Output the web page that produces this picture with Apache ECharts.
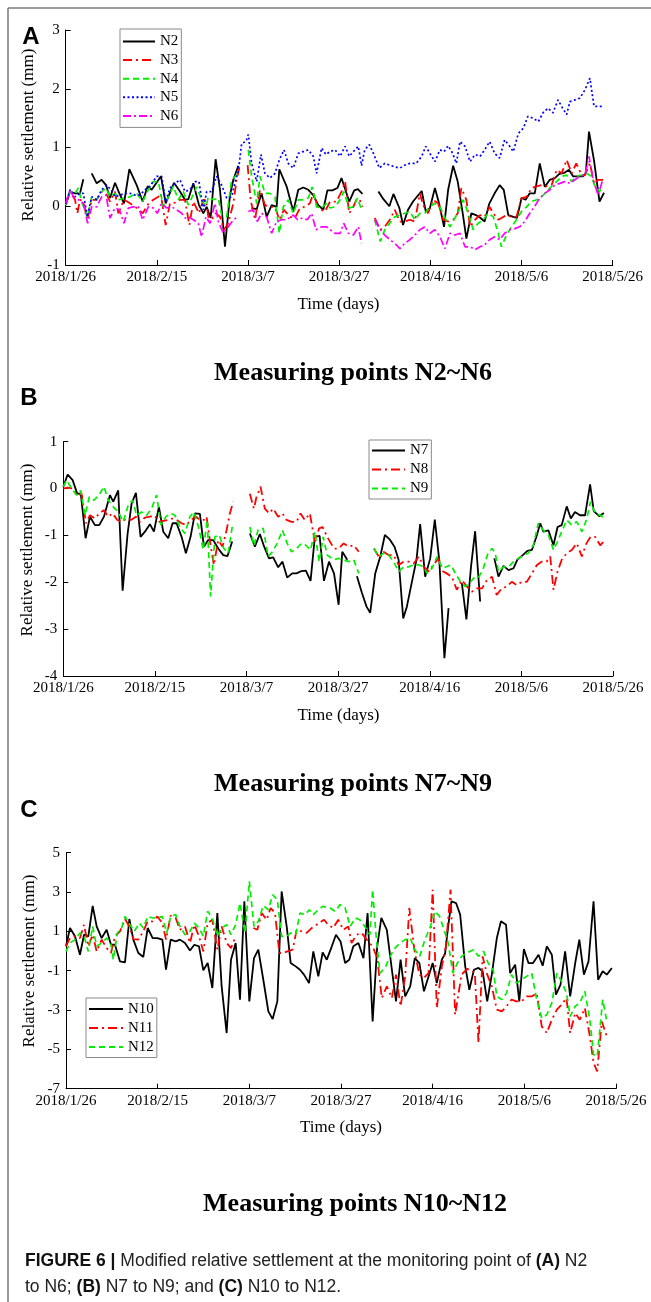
<!DOCTYPE html>
<html><head><meta charset="utf-8">
<script src="https://cdn.jsdelivr.net/npm/echarts@6/dist/echarts.min.js"></script>
<style>html,body{margin:0;padding:0;background:#fff}#c{width:651px;height:1302px}</style>
</head><body><div id="c"></div>
<script>
// x positions are days after 2018/1/26; '-' marks a gap in the record
const xTickLabels = ['2018/1/26','2018/2/15','2018/3/7','2018/3/27','2018/4/16','2018/5/6','2018/5/26'];
const yTicksC = [-7,-5,-3,-1,1,3,5];
const panelTitles = ['Measuring points N2~N6','Measuring points N7~N9','Measuring points N10~N12'];

const N2 = [[0,0.02],[0.95,0.25],[2.05,0.22],[3.14,0.22],[3.87,0.46],[4.8,'-'],[5.7,0.56],[6.8,0.39],[7.89,0.45],[8.85,0.36],[9.72,0.14],[10.82,0.4],[11.77,0.22],[12.79,0.05],[13.96,0.63],[15.57,0.36],[16.89,0.08],[17.98,0.34],[18.86,0.28],[20.9,0.51],[21.93,0.05],[23.76,0.4],[25.07,0.25],[26.17,0.11],[26.9,0.12],[28.0,0.39],[29.24,0.02],[30.19,-0.12],[30.92,-0.01],[31.8,-0.2],[32.89,0.8],[33.85,0.28],[34.94,-0.69],[36.04,0.19],[36.77,0.45],[37.87,0.69],[39.3,'-'],[40.79,-0.03],[41.89,-0.05],[42.98,0.22],[44.08,-0.18],[45.18,0.02],[46.27,-0.01],[46.86,0.63],[48.46,0.34],[49.93,-0.09],[51.02,0.28],[52.12,0.32],[53.22,0.28],[54.31,0.19],[55.41,0.02],[56.51,-0.06],[57.4,0.27],[58.5,0.27],[59.6,0.31],[60.5,0.48],[62.2,0.08],[63.3,0.27],[64.1,0.29],[65.1,0.21],[66.8,'-'],[68.6,0.25],[69.7,0.12],[71.0,0],[71.9,0.21],[73.2,-0.03],[74.0,-0.32],[75.1,-0.06],[76.2,0.08],[78.1,0.26],[79.0,-0.09],[79.9,-0.03],[81.0,0.31],[81.9,0.05],[83.0,-0.35],[83.9,0.28],[85.0,0.69],[86.0,0.42],[87.1,-0.12],[87.9,-0.55],[89.0,-0.12],[90.0,-0.15],[91.0,-0.2],[91.9,-0.26],[92.9,0.04],[94.1,0.22],[95.2,0.36],[96.1,0.28],[97.1,-0.15],[98.2,-0.18],[99.0,-0.2],[100.0,0.14],[100.9,0.11],[101.8,0.22],[102.9,0.22],[104.0,0.73],[105.1,0.33],[106.2,0.45],[107.3,0.48],[108.3,0.55],[109.4,0.57],[110.4,0.62],[111.3,0.51],[112.0,0.51],[113.5,0.51],[114.1,0.56],[114.8,1.27],[115.9,0.78],[117.1,0.08],[118.1,0.23]];
const N3 = [[0,0.02],[0.95,0.25],[2.05,0.11],[2.56,-0.12],[3.14,0.11],[3.87,0.08],[4.75,-0.23],[5.7,0.11],[6.8,0.11],[7.89,0.25],[8.85,0.22],[9.72,0.08],[10.82,0.25],[11.55,-0.12],[12.79,0.11],[14.1,0.05],[15.57,-0.03],[16.89,-0.12],[18.13,0.04],[19.23,0.11],[20.32,0.16],[20.83,0.22],[21.93,-0.32],[22.88,0.05],[23.98,0.06],[25.07,0.11],[26.17,0.11],[27.12,-0.32],[28.0,0.08],[29.24,-0.12],[30.19,0.11],[30.77,0.11],[31.29,-0.18],[32.02,-0.23],[32.89,-0.12],[33.85,-0.18],[34.72,-0.4],[35.67,-0.29],[36.77,0.05],[37.5,0.45],[38.09,0.65],[39.0,'-'],[39.91,0.7],[40.57,0.11],[41.52,-0.23],[42.62,0.28],[43.71,0.02],[44.81,-0.01],[45.91,-0.01],[46.86,-0.23],[47.88,-0.06],[49.2,-0.18],[50.29,-0.2],[51.39,-0.03],[52.49,-0.01],[53.58,0.05],[54.31,0.22],[55.41,-0.03],[56.87,-0.09],[58.0,0.08],[59.4,0.08],[60.5,0.25],[61.3,0.42],[62.2,-0.12],[63.1,-0.01],[63.8,0.12],[64.5,0.11],[65.1,-0.01],[66.5,'-'],[67.8,-0.2],[69.0,-0.4],[70.0,-0.35],[71.1,-0.23],[72.2,-0.06],[73.3,-0.26],[74.4,-0.26],[75.5,-0.23],[76.6,-0.26],[77.7,0.22],[78.4,0.02],[79.5,-0.12],[80.6,0.11],[81.7,0.05],[82.8,-0.23],[83.9,-0.26],[85.0,-0.23],[86.0,-0.12],[86.8,0.31],[87.9,0.11],[88.7,-0.35],[89.8,-0.23],[90.9,-0.15],[91.9,-0.18],[93.0,-0.01],[93.8,-0.12],[94.9,-0.23],[95.6,-0.2],[96.7,-0.15],[97.8,-0.18],[98.9,-0.18],[100.0,0.14],[101.1,0.16],[102.2,0.31],[103.3,0.34],[104.4,0.36],[105.5,0.34],[106.6,0.36],[107.7,0.62],[108.8,0.56],[109.9,0.79],[111.0,0.56],[112.0,0.73],[113.2,0.53],[113.9,0.53],[115.0,0.73],[115.9,0.39],[116.8,0.45],[117.9,0.45]];
const N4 = [[0,0.02],[0.95,0.25],[2.05,0.22],[2.78,0.31],[3.5,0.08],[4.75,-0.18],[5.7,0.16],[6.8,0.11],[7.89,0.25],[8.85,0.31],[9.72,0.16],[10.82,0.22],[11.77,0.11],[12.79,0.14],[14.1,0.16],[15.57,0.22],[16.89,0.08],[18.13,0.28],[19.23,0.42],[20.32,0.42],[21.42,-0.01],[22.51,0.16],[23.61,0.34],[24.71,0.11],[25.8,0.25],[26.9,0.02],[27.63,0.14],[28.73,0.33],[29.82,0.11],[30.77,-0.01],[31.29,0.16],[32.38,0.11],[33.48,0.14],[34.21,-0.15],[35.31,-0.18],[36.4,0.45],[37.5,0.53],[38.09,0.56],[39.0,'-'],[40.06,0.96],[40.79,0.51],[41.89,0.05],[42.62,0.51],[43.71,0.22],[44.81,0.22],[45.91,0.16],[46.86,-0.46],[47.73,-0.01],[48.83,0.11],[49.93,-0.12],[51.02,0.11],[52.12,0.11],[53.22,0.14],[54.09,0.33],[55.04,-0.01],[56.14,-0.03],[57.24,0.05],[58.0,-0.03],[59.1,-0.01],[60.2,0.11],[61.0,0.25],[62.2,-0.03],[63.1,-0.01],[64.0,0.14],[64.9,-0.06],[66.3,'-'],[67.8,-0.23],[69.0,-0.6],[70.0,-0.4],[71.1,-0.29],[72.2,-0.18],[73.3,-0.15],[74.4,-0.12],[75.5,-0.09],[76.6,-0.23],[77.7,-0.12],[78.8,-0.12],[79.9,-0.01],[81.0,0.05],[82.1,-0.01],[83.2,-0.2],[84.3,-0.35],[85.4,-0.2],[86.5,-0.03],[87.2,0.11],[88.3,-0.12],[89.4,-0.4],[90.5,-0.29],[91.6,-0.23],[92.7,-0.12],[93.8,-0.18],[94.9,-0.46],[95.6,-0.69],[96.7,-0.49],[97.8,-0.35],[98.9,-0.23],[100.0,-0.09],[101.1,-0.01],[102.2,0.08],[103.3,0.11],[104.4,0.16],[105.5,0.25],[106.6,0.34],[107.7,0.42],[108.8,0.51],[109.9,0.53],[111.0,0.42],[112.0,0.51],[113.2,0.53],[114.3,0.56],[115.3,0.51],[116.1,0.34],[117.1,0.25],[117.9,0.34]];
const N5 = [[0,0.04],[0.95,0.28],[2.05,0.16],[3.14,0.22],[3.87,0.22],[4.75,-0.18],[5.7,0.16],[6.8,0.11],[7.89,0.28],[8.99,0.36],[9.94,0.28],[10.82,0.16],[11.92,0.19],[13.0,0.22],[14.1,0.22],[15.2,0.19],[16.3,0.19],[17.4,0.28],[18.49,0.34],[19.96,0.51],[21.05,0.51],[21.93,0.08],[22.88,0.31],[23.98,0.39],[25.07,0.45],[26.17,0.25],[27.27,0.28],[28.36,0.42],[29.24,0.42],[30.19,-0.06],[30.92,0.25],[32.02,0.25],[33.11,0.51],[34.21,0.36],[35.31,0.14],[36.4,0.16],[37.28,0.45],[37.87,0.59],[38.6,1.07],[39.55,1.1],[40.06,1.22],[40.79,0.73],[41.89,0.42],[42.84,0.88],[43.71,0.56],[44.81,0.48],[45.91,0.56],[46.86,0.79],[47.88,0.96],[48.83,0.73],[49.93,0.65],[51.02,0.9],[52.12,0.93],[53.22,0.96],[54.31,0.85],[55.04,0.56],[56.14,0.99],[57.09,0.88],[57.97,0.93],[59.1,0.96],[60.2,0.85],[61.3,1.02],[62.2,0.85],[63.1,0.93],[64.2,1.02],[64.9,0.69],[65.6,0.96],[66.6,1.05],[67.5,0.9],[68.8,0.65],[70.0,0.73],[71.1,0.7],[72.2,0.67],[73.3,0.65],[74.4,0.7],[75.5,0.73],[76.9,0.73],[78.1,0.85],[79.0,1.02],[79.9,0.9],[81.0,0.76],[82.1,0.96],[83.0,0.93],[83.9,1.03],[84.9,0.9],[85.7,0.73],[86.5,1.1],[87.6,1.02],[88.7,0.76],[89.8,0.88],[90.9,0.85],[91.9,0.96],[93.0,1.1],[94.1,0.9],[95.2,0.82],[96.3,1.13],[97.4,1.02],[98.2,0.93],[99.3,1.24],[100.4,1.33],[101.4,1.53],[102.5,1.5],[103.7,1.44],[104.7,1.59],[105.8,1.67],[106.9,1.59],[108.0,1.81],[109.0,1.67],[109.9,1.56],[110.6,1.78],[111.7,1.81],[112.8,1.84],[113.9,1.98],[115.0,2.18],[115.9,1.7],[116.8,1.7],[117.8,1.7]];
const N6 = [[0,0.05],[0.95,0.28],[1.7,0.16],[2.78,0.11],[3.87,0.05],[4.82,-0.29],[5.7,-0.01],[6.8,-0.01],[7.89,0.16],[8.85,0.19],[9.72,-0.2],[10.82,-0.03],[11.77,-0.06],[12.79,-0.29],[13.74,-0.03],[14.84,-0.01],[15.94,-0.01],[16.89,-0.23],[18.13,-0.01],[19.23,-0.03],[20.1,-0.12],[21.05,0.05],[22.15,-0.03],[23.25,-0.01],[24.34,-0.06],[25.44,-0.12],[26.17,-0.2],[26.9,-0.18],[28.0,-0.23],[29.09,-0.29],[29.82,-0.52],[30.77,-0.18],[31.65,-0.29],[32.75,0.05],[33.48,-0.26],[34.58,-0.46],[35.67,-0.35],[36.77,-0.23],[37.87,-0.18],[39.0,'-'],[40.06,-0.09],[41.15,-0.06],[42.03,-0.26],[42.98,-0.12],[44.08,-0.18],[45.18,-0.46],[46.27,-0.26],[47.37,-0.23],[48.46,-0.23],[49.93,-0.15],[50.88,-0.23],[51.97,-0.2],[53.0,-0.23],[53.95,-0.12],[54.9,-0.4],[56.14,-0.35],[57.24,-0.35],[58.0,-0.4],[59.1,-0.46],[60.2,-0.46],[61.0,-0.29],[62.0,-0.46],[63.1,-0.49],[64.2,-0.35],[64.9,-0.63],[66.3,'-'],[67.8,-0.23],[69.0,-0.4],[70.0,-0.49],[71.1,-0.57],[72.2,-0.63],[73.3,-0.72],[74.4,-0.63],[75.5,-0.57],[76.6,-0.49],[77.7,-0.4],[78.8,-0.35],[79.9,-0.46],[81.0,-0.4],[82.1,-0.52],[83.2,-0.72],[84.3,-0.46],[85.4,-0.49],[86.5,-0.46],[87.6,-0.69],[88.7,-0.69],[89.8,-0.74],[90.9,-0.69],[91.9,-0.66],[93.0,-0.57],[94.1,-0.52],[95.2,-0.57],[96.3,-0.46],[97.4,-0.4],[98.5,-0.38],[99.6,-0.35],[100.7,-0.26],[101.8,-0.12],[102.9,0],[104.0,0.14],[105.1,0.22],[106.2,0.28],[107.3,0.36],[108.4,0.39],[109.5,0.42],[110.6,0.39],[111.7,0.45],[112.8,0.51],[113.9,0.53],[114.8,0.85],[115.7,0.45],[116.8,0.19],[117.8,0.45]];

const N7 = [[0,0.04],[0.95,0.3],[2.04,0.18],[3.05,-0.11],[3.82,-0.11],[4.87,-1.06],[5.82,-0.6],[6.91,-0.78],[7.85,-0.78],[8.87,-0.6],[10.18,-0.14],[10.91,-0.28],[11.99,-0.04],[12.95,-2.18],[14.04,-0.96],[14.91,-0.32],[15.85,-0.09],[16.87,-1.03],[17.82,-0.92],[18.91,-0.76],[19.78,-0.92],[20.87,-0.39],[21.82,-0.92],[22.91,-1.06],[23.85,-0.74],[24.73,-0.74],[25.82,-1.03],[26.76,-1.38],[27.78,-1.03],[28.73,-0.53],[29.82,-0.54],[30.69,-1.24],[31.64,-1.1],[32.73,-1.1],[33.82,-1.28],[34.91,-1.42],[35.85,-1.44],[36.87,-1.13],[38.8,'-'],[40.73,-0.96],[41.82,-1.24],[42.91,-0.97],[43.85,-1.24],[44.91,-1.49],[45.82,-1.47],[46.91,-1.68],[47.85,-1.56],[48.87,-1.9],[49.98,-1.81],[50.91,-1.81],[52.0,-1.76],[52.95,-1.75],[53.98,-1.97],[54.91,-1.03],[55.96,-1.01],[56.9,-1.97],[58.0,-1.56],[59.1,-1.81],[60.1,-2.48],[60.9,-1.35],[62.0,-1.52],[63.0,'-'],[64.1,-1.87],[65.2,-2.23],[66.2,-2.52],[67.0,-2.65],[68.1,-1.81],[69.2,-1.45],[70.2,-0.99],[71.3,-1.09],[72.3,-1.24],[73.2,-1.52],[74.2,-2.77],[75.0,-2.52],[76.1,-1.99],[77.1,-1.52],[77.9,-0.76],[79.0,-1.88],[80.1,-1.49],[81.1,-0.66],[82.1,-1.56],[83.2,-3.62],[84.1,-2.55],[85.5,'-'],[87.0,-2.02],[88.0,-2.79],[89.0,-1.67],[89.9,-0.91],[91.0,-2.41],[92.5,'-'],[94.1,-1.49],[95.0,-1.88],[96.1,-1.65],[97.2,-1.74],[98.3,-1.7],[99.1,-1.52],[100.3,-1.42],[101.3,-1.33],[102.3,-1.31],[103.4,-0.99],[104.1,-0.74],[104.8,-0.92],[105.9,-0.89],[107.0,-1.21],[107.9,-0.82],[108.8,-0.78],[109.9,-0.38],[110.8,-0.64],[111.7,-0.5],[112.8,-0.57],[113.9,-0.57],[115.0,0.09],[115.8,-0.48],[117.0,-0.59],[118.0,-0.52]];
const N8 = [[0,0],[0.95,0.02],[2.04,0],[3.05,-0.14],[4.0,-0.11],[4.95,-0.74],[5.82,-0.57],[6.91,-0.64],[7.85,-0.53],[8.87,-0.46],[9.82,-0.6],[10.76,-0.53],[11.78,-0.67],[12.73,-0.71],[13.82,-0.64],[14.76,-0.67],[15.85,-0.6],[16.73,-0.71],[17.82,-0.62],[18.91,-0.6],[19.85,-0.57],[20.95,-0.71],[21.82,-0.69],[22.91,-0.67],[23.85,-0.64],[24.73,-0.67],[25.82,-0.74],[26.91,-0.78],[27.78,-0.67],[28.95,-0.6],[29.82,-0.67],[30.69,-0.67],[31.27,-0.6],[32.15,-1.21],[32.87,-1.63],[33.82,-1.1],[34.76,-1.24],[35.64,-0.89],[36.36,-0.53],[37.09,-0.28],[38.9,'-'],[40.73,-0.11],[41.6,-0.43],[42.18,-0.18],[43.05,0.04],[44.0,-0.43],[44.95,-0.53],[45.82,-0.43],[46.91,-0.6],[47.85,-0.53],[48.73,-0.67],[49.82,-0.71],[50.91,-0.71],[51.78,-0.53],[52.73,-0.67],[53.82,-0.53],[54.91,-1.13],[55.85,-0.85],[56.6,-0.82],[57.6,-1.03],[59.1,-1.28],[60.1,-1.28],[61.2,-1.17],[62.3,-1.24],[63.4,-1.21],[64.5,-1.35],[66.2,'-'],[67.8,-1.28],[69.1,-1.49],[69.9,-1.35],[71.0,-1.42],[72.1,-1.42],[73.2,-1.63],[74.3,-1.56],[75.4,-1.56],[76.5,-1.6],[77.6,-1.45],[78.7,-1.67],[79.8,-1.77],[80.8,-1.63],[81.9,-1.49],[82.9,-1.77],[83.7,-1.81],[84.8,-1.88],[85.9,-2.16],[87.0,-1.95],[88.1,-2.09],[89.2,-2.2],[90.3,-2.13],[91.4,-2.13],[92.5,-1.95],[93.6,-1.88],[94.6,-2.27],[95.7,-2.13],[96.8,-2.09],[97.9,-1.99],[99.0,-2.06],[100.1,-1.99],[101.2,-1.99],[102.3,-1.81],[103.4,-1.63],[104.4,-1.56],[105.5,-1.56],[106.3,-1.45],[107.0,-2.16],[107.9,-1.77],[108.8,-1.52],[109.9,-1.38],[111.0,-1.31],[112.1,-1.17],[113.2,-1.45],[114.2,-1.17],[115.1,-1.03],[116.1,-1.03],[117.2,-1.21],[118.0,-1.13]];
const N9 = [[0,0.04],[0.73,0.18],[1.82,0],[2.91,-0.14],[3.78,-0.04],[4.73,-0.57],[5.67,-0.18],[6.69,-0.25],[7.78,-0.14],[8.87,0.04],[9.82,-0.25],[10.91,-0.39],[12.0,-0.5],[13.09,-0.71],[14.18,-0.35],[15.13,-0.25],[16.0,-0.57],[17.09,-0.5],[18.18,-0.57],[19.27,-0.43],[20.36,-0.14],[21.31,-0.78],[22.4,-0.6],[23.42,-0.53],[24.36,-0.57],[25.45,-0.82],[26.55,-0.96],[27.64,-0.6],[28.51,-0.5],[29.6,-0.85],[30.55,-1.31],[31.42,-0.67],[32.15,-2.3],[33.09,-1.03],[34.04,-0.99],[35.05,-1.28],[36.0,-1.38],[36.87,-0.82],[38.8,'-'],[40.73,-0.82],[41.6,-1.22],[42.55,-0.87],[43.64,-0.85],[44.73,-1.45],[45.67,-1.35],[46.69,-1.17],[47.85,-0.89],[48.87,-1.17],[49.82,-1.35],[50.91,-1.28],[52.0,-1.17],[52.95,-1.21],[53.96,-1.31],[54.91,-0.92],[55.85,-1.56],[56.73,-1.03],[57.6,-1.42],[59.1,-1.52],[60.1,-1.49],[61.2,-1.52],[62.3,-1.56],[63.4,-1.52],[64.5,-1.81],[66.2,'-'],[67.8,-1.28],[68.9,-1.45],[69.9,-1.38],[71.0,-1.42],[72.1,-1.56],[73.2,-1.77],[74.3,-1.67],[75.4,-1.67],[76.5,-1.63],[77.6,-1.63],[78.7,-1.67],[79.4,-1.81],[80.5,-1.7],[81.6,-1.45],[82.7,-1.7],[83.6,-1.67],[84.6,-1.63],[85.6,-1.81],[86.7,-1.99],[87.7,-2.09],[88.7,-2.02],[89.6,-1.91],[90.6,-1.91],[91.7,-1.7],[92.7,-1.38],[93.6,-1.28],[94.3,-1.38],[95.0,-1.77],[96.1,-1.67],[97.2,-1.67],[98.3,-1.56],[99.4,-1.49],[100.5,-1.42],[101.5,-1.38],[102.6,-1.21],[103.7,-0.74],[104.8,-0.89],[105.9,-0.99],[107.0,-1.31],[107.9,-1.13],[108.8,-0.92],[109.9,-0.67],[111.0,-0.78],[112.1,-0.71],[113.2,-0.92],[114.2,-0.67],[115.1,-0.28],[116.1,-0.53],[117.2,-0.57],[118.0,-0.62]];

const N10 = [[0,0.24],[0.87,1.17],[1.96,0.75],[3.05,-0.19],[3.93,0.83],[4.87,0.75],[5.82,2.3],[6.69,1.25],[7.78,0.66],[8.87,1.08],[9.82,0.32],[10.69,0.32],[11.78,-0.53],[12.87,-0.58],[13.82,1.63],[14.69,0.58],[15.78,-0.1],[16.87,-0.3],[17.82,1.17],[18.91,0.66],[19.93,0.66],[21.02,0.58],[21.82,-0.95],[22.84,0.58],[23.93,0.49],[24.87,0.58],[25.96,0.41],[27.05,0.03],[28.0,0.32],[29.02,0.24],[29.96,-0.98],[30.91,-0.61],[31.93,-1.88],[33.02,1.93],[33.96,-1.8],[35.05,-4.17],[36.0,-0.44],[37.02,0.41],[37.96,-2.47],[38.91,2.53],[40.0,-2.56],[41.02,-0.36],[41.96,0.07],[43.05,-1.46],[44.15,-3.07],[45.09,-3.46],[46.11,-2.56],[47.05,3.03],[48.15,1.25],[49.02,-0.61],[50.11,-0.78],[51.05,-0.95],[51.93,-1.2],[53.02,-1.63],[53.96,-0.02],[55.05,-1.29],[56.0,-0.07],[56.9,-0.44],[58.0,0.24],[58.9,0.83],[59.9,0.49],[60.9,-0.61],[61.8,-0.44],[62.7,0.24],[63.8,0.41],[64.9,-0.36],[65.8,1.93],[66.9,-3.58],[67.9,0.24],[68.8,1.68],[70.0,1.08],[71.1,-0.95],[72.0,-2.56],[73.0,-0.44],[74.0,-2.31],[75.1,-1.8],[76.1,-0.36],[77.1,-0.61],[78.1,-2.05],[79.1,-1.29],[80.0,-0.61],[80.9,-1.63],[82.0,-0.44],[82.7,-0.14],[83.4,1.29],[84.1,2.53],[85.1,2.44],[86.0,1.85],[87.1,-0.78],[88.0,-1.97],[89.0,-0.95],[90.0,-0.86],[90.9,-1.03],[91.9,-2.56],[92.9,-1.2],[94.0,0.66],[94.9,1.51],[96.0,1.34],[96.9,-1.12],[98.0,-0.69],[98.9,-2.56],[99.9,0.1],[100.9,-0.61],[101.9,-0.61],[103.1,-0.19],[104.0,-0.75],[104.9,0.24],[106.0,-0.19],[106.9,-2.22],[107.9,-1.71],[108.9,-0.02],[110.0,-2.31],[111.1,-0.61],[112.0,0.58],[113.0,-1.2],[114.0,-0.53],[115.1,2.53],[116.1,-1.46],[117.1,-1.03],[118.0,-1.2],[119.1,-0.86]];
const N11 = [[0,0.24],[0.87,0.66],[1.96,0.75],[3.05,0.66],[3.93,1.34],[4.87,0.24],[5.82,0.83],[6.69,-0.02],[7.78,0.58],[8.87,0.15],[9.82,-0.1],[10.69,0.75],[11.78,1.0],[12.87,1.63],[13.82,1.25],[14.69,0.61],[15.78,0.58],[16.87,1.0],[17.82,1.51],[18.91,1.51],[19.93,1.76],[21.02,1.42],[21.82,0.58],[22.84,1.8],[23.93,1.68],[24.87,1.08],[25.96,1.25],[27.05,0.41],[28.0,1.34],[29.02,0.75],[29.96,-0.02],[30.91,1.42],[31.93,1.59],[33.02,0.07],[33.96,1.25],[35.05,0.41],[36.0,0.15],[37.02,0.75],[39.0,'-'],[40.87,1.17],[41.75,1.08],[42.69,1.93],[43.78,1.59],[44.65,2.19],[45.6,1.93],[46.55,-0.1],[47.42,-0.1],[48.29,-0.02],[49.45,0.07],[50.33,1.08],[51.42,1.0],[52.51,0.92],[53.6,1.17],[54.69,1.34],[55.78,1.51],[56.3,1.59],[57.2,1.34],[58.3,1.17],[59.4,1.59],[60.5,1.08],[61.6,1.25],[62.3,0.41],[63.4,0.83],[64.5,0.92],[65.6,0.58],[66.9,0.24],[67.9,-0.36],[68.9,-2.39],[70.0,-1.8],[71.1,-2.39],[72.0,-1.2],[73.0,-2.81],[74.0,-1.29],[74.9,2.19],[76.0,0.07],[77.1,-1.2],[78.1,-1.37],[79.1,-1.12],[80.0,3.12],[80.9,-2.9],[82.0,-0.78],[82.9,0.24],[83.9,3.12],[84.9,-3.24],[86.3,-1.2],[87.6,-0.9],[89.2,-1.12],[90.0,-4.68],[90.9,-0.27],[91.8,-1.12],[92.9,-1.8],[94.0,-2.98],[95.1,-3.07],[96.1,-2.81],[97.2,-2.47],[98.3,-2.56],[99.4,-2.56],[100.5,-2.31],[101.6,-2.31],[102.7,-2.14],[103.8,-3.83],[104.9,-4.17],[106.0,-3.49],[107.1,-2.98],[108.1,-2.73],[109.2,-2.39],[110.0,-4.17],[111.1,-3.15],[112.1,-3.49],[113.2,-2.9],[114.3,-4.34],[115.1,-5.69],[115.9,-6.12],[116.9,-3.58],[118.0,-4.34]];
const N12 = [[0,-0.02],[0.87,0.41],[1.96,0.58],[3.05,0.92],[3.93,0.75],[4.87,-0.02],[5.82,1.25],[6.69,0.24],[7.78,0.41],[8.87,0.66],[9.82,0.32],[10.33,-0.44],[11.2,0.92],[12.15,1.17],[12.87,1.76],[13.96,1.34],[14.91,1.0],[16.0,1.42],[16.87,1.17],[17.82,1.76],[18.91,1.68],[19.93,1.68],[21.02,1.76],[21.96,0.92],[22.84,1.76],[23.93,1.85],[24.87,1.25],[25.96,0.83],[27.05,1.0],[28.0,1.42],[29.02,1.17],[29.96,0.75],[30.91,2.02],[31.93,1.68],[33.02,0.75],[33.96,1.17],[35.05,1.34],[36.0,0.83],[37.02,1.34],[37.96,2.44],[39.05,0.92],[40.0,3.54],[41.02,1.25],[41.96,1.51],[43.05,2.31],[44.15,2.1],[45.09,2.86],[46.11,2.61],[47.05,0.75],[48.15,0.75],[49.02,0.92],[50.11,0.83],[51.05,1.93],[52.15,1.85],[53.09,2.1],[53.96,1.85],[55.05,2.1],[56.0,2.27],[57.6,2.19],[58.7,2.02],[59.8,2.36],[60.9,2.19],[62.0,1.25],[63.1,1.68],[64.1,1.59],[65.2,1.25],[66.3,0.83],[66.9,3.12],[67.6,0.92],[68.5,-1.12],[69.6,-0.86],[70.7,-0.27],[71.8,0.15],[72.9,0.41],[74.0,0.58],[75.1,0.66],[76.1,0.07],[77.2,-0.27],[78.3,0.58],[79.4,1.17],[80.5,2.02],[81.5,1.76],[82.5,1.08],[83.4,0.41],[84.4,-1.12],[85.4,-0.61],[86.3,-0.27],[87.4,-0.1],[88.9,0.07],[90.0,-0.27],[91.1,-0.02],[92.1,-0.61],[93.2,-0.95],[94.0,-2.31],[95.1,-2.47],[96.1,-2.14],[97.2,-1.2],[98.3,-1.63],[99.4,-1.46],[100.5,-1.29],[101.6,-1.12],[102.7,-2.47],[103.8,-3.41],[104.9,-3.24],[106.0,-2.64],[107.1,-1.12],[108.1,-1.54],[109.2,-2.14],[110.0,-3.32],[111.1,-2.81],[112.1,-2.64],[113.2,-2.05],[114.3,-3.49],[115.1,-5.27],[115.9,-5.36],[117.1,-2.47],[118.0,-3.58]];

const SERIF = '"Liberation Serif","Times New Roman",serif';
const SANS = '"Liberation Sans",Arial,sans-serif';

const styles = {
  black: {color:'#000000', width:1.8, type:'solid'},
  red: {color:'#ff0000', width:1.8, type:[9,4,2,4]},
  green: {color:'#00ee00', width:1.7, type:[6,4]},
  blue: {color:'#0000ff', width:1.7, type:[2,2.5]},
  magenta: {color:'#ff00ff', width:1.7, type:[8,3,2,3]}
};

function mkSeries(name, data, st, idx){
  return {name, type:'line', data, xAxisIndex:idx, yAxisIndex:idx, symbol:'none', showSymbol:false,
    connectNulls:false, animation:false, color:st.color,
    lineStyle:{color:st.color, width:st.width, type:st.type}};
}
function mkX(idx){
  return {gridIndex:idx, type:'value', min:0, max:120, interval:20,
    axisLine:{onZero:false, lineStyle:{color:'#000', width:1}},
    axisTick:{inside:true, length:5, lineStyle:{color:'#000'}},
    splitLine:{show:false},
    axisLabel:{color:'#000', fontFamily:SERIF, fontSize:15, margin:5,
      formatter:v=>xTickLabels[Math.round(v/20)]}};
}
function mkY(idx, min, max, interval, custom){
  const y = {gridIndex:idx, type:'value', min, max,
    axisLine:{show:true, onZero:false, lineStyle:{color:'#000', width:1}},
    axisTick:{inside:true, length:5, lineStyle:{color:'#000'}},
    splitLine:{show:false},
    axisLabel:{color:'#000', fontFamily:SERIF, fontSize:15, margin:6}};
  if (custom){ y.axisTick.customValues = custom; y.axisLabel.customValues = custom; }
  else { y.interval = interval; }
  return y;
}
function mkLegend(names, left, top, pad, itemWidth, gap){
  return {data:names, orient:'vertical', left, top, padding:pad, itemGap:gap, itemWidth, itemHeight:14,
    borderColor:'#8a8a8a', borderWidth:1, backgroundColor:'#fff',
    itemStyle:{color:'rgba(0,0,0,0)', borderColor:'rgba(0,0,0,0)', borderWidth:0, opacity:0},
    textStyle:{color:'#000', fontFamily:SERIF, fontSize:15}, selectedMode:false};
}
function txt(text, x, y, font){
  return {type:'text', x, y, silent:true, z:100,
    style:{text, font, fill:'#000', align:'center', verticalAlign:'middle',
      textAlign:'center', textVerticalAlign:'middle'}};
}
function rtxt(text, x, y, font){
  return {type:'text', x, y, rotation:Math.PI/2, silent:true, z:100,
    style:{text, font, fill:'#000', align:'center', verticalAlign:'middle', textAlign:'center', textVerticalAlign:'middle'}};
}

const chart = echarts.init(document.getElementById('c'), null, {renderer:'canvas'});
const capFont = 17.5;
const capRich = {b:{fontFamily:SANS, fontWeight:'bold', fontSize:capFont, fill:'#111'}, r:{fontFamily:SANS, fontSize:capFont, fill:'#222'}};
chart.setOption({
  backgroundColor:'#ffffff',
  animation:false,
  grid:[
    {left:65.7, top:30, width:547, height:235},
    {left:63.3, top:441.7, width:549.7, height:234.3},
    {left:66, top:852.7, width:550, height:236}
  ],
  xAxis:[mkX(0), mkX(1), mkX(2)],
  yAxis:[mkY(0,-1,3,1), mkY(1,-4,1,1), mkY(2,-7,5,null,yTicksC)],
  legend:[
    mkLegend(['N2','N3','N4','N5','N6'], 120, 29, [5,3,4,2], 32, 3.6),
    mkLegend(['N7','N8','N9'], 369, 440, [3,3,3,2], 33, 4),
    mkLegend(['N10','N11','N12'], 86, 998, [3.5,3,3,2], 34, 4)
  ],
  series:[
    mkSeries('N2', N2, styles.black, 0),
    mkSeries('N3', N3, styles.red, 0),
    mkSeries('N4', N4, styles.green, 0),
    mkSeries('N5', N5, styles.blue, 0),
    mkSeries('N6', N6, styles.magenta, 0),
    mkSeries('N7', N7, styles.black, 1),
    mkSeries('N8', N8, styles.red, 1),
    mkSeries('N9', N9, styles.green, 1),
    mkSeries('N10', N10, styles.black, 2),
    mkSeries('N11', N11, styles.red, 2),
    mkSeries('N12', N12, styles.green, 2)
  ],
  graphic:[
    {type:'line', silent:true, shape:{x1:8, y1:8, x2:651, y2:8}, style:{stroke:'#7a7a7a', lineWidth:1.5}},
    {type:'line', silent:true, shape:{x1:8, y1:8, x2:8, y2:1302}, style:{stroke:'#7a7a7a', lineWidth:1.5}},
    txt('A', 31, 37, 'bold 24px '+SANS),
    txt('B', 29, 398, 'bold 24px '+SANS),
    txt('C', 29, 810, 'bold 24px '+SANS),
    rtxt('Relative settlement (mm)', 29, 135, '17px '+SERIF),
    rtxt('Relative settlement (mm)', 28, 550, '17px '+SERIF),
    rtxt('Relative settlement (mm)', 30, 961, '17px '+SERIF),
    txt('Time (days)', 338.5, 305, '17px '+SERIF),
    txt('Time (days)', 338.5, 716, '17px '+SERIF),
    txt('Time (days)', 341, 1128, '17px '+SERIF),
    txt(panelTitles[0], 353, 373, 'bold 26px '+SERIF),
    txt(panelTitles[1], 353, 784, 'bold 26px '+SERIF),
    txt(panelTitles[2], 355, 1204, 'bold 26px '+SERIF),
    {type:'text', x:25, y:1261, silent:true, z:100, style:{
      text:'{b|FIGURE 6 |}{r| Modified relative settlement at the monitoring point of }{b|(A)}{r| N2}',
      align:'left', verticalAlign:'middle', textAlign:'left', textVerticalAlign:'middle', rich:capRich}},
    {type:'text', x:25, y:1287, silent:true, z:100, style:{
      text:'{r|to N6; }{b|(B)}{r| N7 to N9; and }{b|(C)}{r| N10 to N12.}',
      align:'left', verticalAlign:'middle', textAlign:'left', textVerticalAlign:'middle', rich:capRich}}
  ]
});
</script></body></html>
